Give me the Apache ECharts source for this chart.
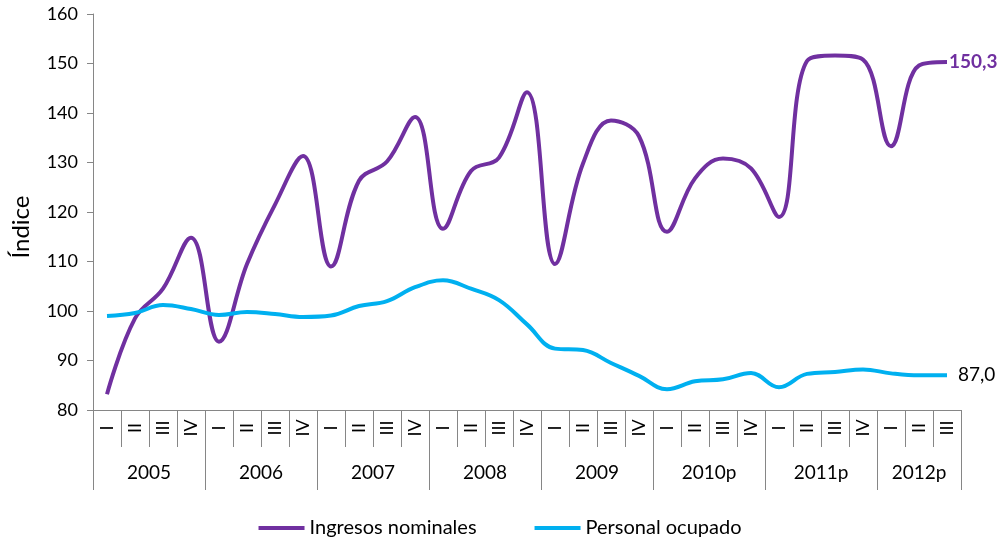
<!DOCTYPE html>
<html><head><meta charset="utf-8">
<script src="https://cdn.jsdelivr.net/npm/echarts@6/dist/echarts.min.js"></script>
<style>html,body{margin:0;padding:0;background:#fff}#c{width:1000px;height:537px}</style>
</head><body><div id="c"></div>
<script>
var quarters = ['I','II','III','IV','I','II','III','IV','I','II','III','IV','I','II','III','IV','I','II','III','IV','I','II','III','IV','I','II','III','IV','I','II','III'];
var years = ['2005','2006','2007','2008','2009','2010p','2011p','2012p'];
var quartersPerYear = [4,4,4,4,4,4,4,3];
var ingresos = [83.2,98.5,104.5,114.8,93.8,109.5,121.5,131.3,109.0,126.3,130.2,139.2,116.6,128.3,131.0,144.2,109.5,129.8,138.5,135.3,116.0,126.8,130.8,128.8,119.0,150.5,151.6,150.8,133.3,149.6,150.3];
var personal = [99.0,99.6,101.2,100.4,99.2,99.8,99.4,98.8,99.1,101.0,102.0,104.8,106.2,104.5,102.2,97.3,92.4,92.1,89.5,86.9,84.2,85.8,86.2,87.5,84.6,87.3,87.7,88.2,87.4,87.0,87.0];
var yTicks = {min:80, max:160, interval:10};

// Year axis built on half-category positions (boundaryGap false)
var nQ = quarters.length;
var yearPos = [];
for (var k = 0; k <= nQ*2; k++) yearPos.push('');
var boundaries = {0:true};
var start = 0;
for (var y = 0; y < years.length; y++) {
  var center = start*2 + quartersPerYear[y];
  yearPos[center] = years[y];
  start += quartersPerYear[y];
  boundaries[start*2] = true;
}

var font = 'Lato, "Open Sans", sans-serif';
var axisGray = '#868686';
var chart = echarts.init(document.getElementById('c'));
chart.setOption({
  animation: false,
  grid: {left: 93, right: 39, top: 14, bottom: 127},
  xAxis: [{
    type: 'category', data: quarters, boundaryGap: true, position: 'bottom',
    axisLine: {lineStyle: {color: axisGray, width: 1}},
    axisTick: {show: true, interval: 0, length: 37, lineStyle: {color: axisGray}},
    axisLabel: {interval: 0, rotate: 90, align: 'center', verticalAlign: 'middle', margin: 18, fontFamily: font, fontSize: 18, color: '#000'}
  }, {
    type: 'category', data: yearPos, boundaryGap: false, position: 'bottom', offset: 0,
    axisLine: {show: false},
    axisTick: {show: true, length: 80, interval: function (i) { return !!boundaries[i]; }, lineStyle: {color: axisGray}},
    axisLabel: {interval: function (i, v) { return v !== ''; }, margin: 53, fontFamily: font, fontSize: 19, color: '#000'}
  }],
  yAxis: {
    type: 'value', min: yTicks.min, max: yTicks.max, interval: yTicks.interval,
    name: 'Índice', nameLocation: 'middle', nameGap: 60, nameRotate: 90,
    nameTextStyle: {fontFamily: font, fontSize: 24, color: '#000', padding: [0, 30, 0, 0]},
    splitLine: {show: false},
    axisLine: {show: true, lineStyle: {color: axisGray}},
    axisTick: {show: true, length: 6, lineStyle: {color: axisGray}},
    axisLabel: {fontFamily: font, fontSize: 18, color: '#000', margin: 15}
  },
  legend: {
    top: 513, left: 'center', itemGap: 58, itemWidth: 46, itemHeight: 4, icon: 'rect',
    textStyle: {fontFamily: font, fontSize: 20, color: '#000'},
    data: ['Ingresos nominales', 'Personal ocupado']
  },
  series: [{
    name: 'Ingresos nominales', type: 'line', data: ingresos, smooth: 0.4,
    showSymbol: false, symbol: 'none',
    lineStyle: {color: '#7030A0', width: 4}, itemStyle: {color: '#7030A0'},
    endLabel: {show: true, distance: 2, fontFamily: font, fontSize: 19, fontWeight: 'bold', color: '#7030A0',
      formatter: function (p) { return p.value.toFixed(1).replace('.', ','); }}
  }, {
    name: 'Personal ocupado', type: 'line', data: personal, smooth: 0.4,
    showSymbol: false, symbol: 'none',
    lineStyle: {color: '#00B0F0', width: 4}, itemStyle: {color: '#00B0F0'},
    endLabel: {show: true, distance: 11, fontFamily: font, fontSize: 19, color: '#000',
      formatter: function (p) { return p.value.toFixed(1).replace('.', ','); }}
  }]
});
</script>
</body></html>
